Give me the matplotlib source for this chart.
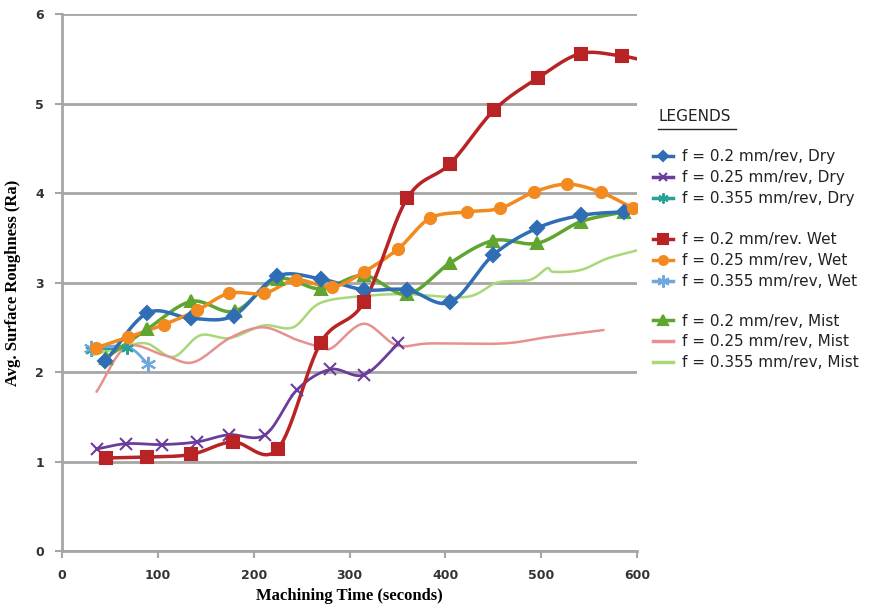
import numpy as np
import matplotlib
matplotlib.use("Agg")
import matplotlib.pyplot as plt
from matplotlib.lines import Line2D

# machining time (s) and Ra values
dry_02_t = [45, 89, 135, 179, 224, 270, 315, 360, 405, 450, 496, 541, 586, 598]
dry_02_ra = [2.12, 2.66, 2.60, 2.63, 3.07, 3.04, 2.92, 2.92, 2.78, 3.31, 3.61, 3.75, 3.79, 3.78]

dry_025_t = [36, 67, 104, 141, 174, 212, 245, 280, 315, 351]
dry_025_ra = [1.14, 1.20, 1.19, 1.22, 1.30, 1.30, 1.80, 2.03, 1.97, 2.32]

dry_0355_t = [30, 68]
dry_0355_ra = [2.25, 2.27]

wet_02_t = [46, 89, 135, 178, 225, 270, 315, 360, 405, 451, 497, 541, 584, 600]
wet_02_ra = [1.04, 1.05, 1.08, 1.22, 1.14, 2.33, 2.78, 3.94, 4.33, 4.93, 5.29, 5.56, 5.53, 5.50]

wet_025_t = [35, 69, 106, 141, 174, 211, 244, 282, 315, 351, 384, 422, 457, 492, 527, 562, 596]
wet_025_ra = [2.27, 2.39, 2.53, 2.69, 2.88, 2.88, 3.03, 2.95, 3.12, 3.38, 3.72, 3.79, 3.83, 4.01, 4.10, 4.01, 3.83]

wet_0355_t = [30, 68, 90]
wet_0355_ra = [2.27, 2.28, 2.09]

mist_02_t = [46, 89, 135, 180, 225, 270, 315, 360, 405, 450, 496, 541, 586]
mist_02_ra = [2.16, 2.48, 2.79, 2.68, 3.04, 2.93, 3.08, 2.87, 3.22, 3.47, 3.44, 3.68, 3.79]

mist_025_t = [36, 67, 106, 137, 175, 210, 245, 273, 283, 315, 349, 384, 460, 506, 565]
mist_025_ra = [1.78, 2.28, 2.19, 2.11, 2.38, 2.50, 2.36, 2.27, 2.28, 2.54, 2.30, 2.32, 2.32, 2.39, 2.47]

mist_0355_t = [32, 60, 88, 116, 144, 175, 210, 241, 269, 315, 360, 422, 454, 488, 506, 513, 541, 569, 600]
mist_0355_ra = [2.19, 2.27, 2.32, 2.17, 2.41, 2.38, 2.52, 2.50, 2.77, 2.85, 2.87, 2.84, 3.00, 3.03, 3.16, 3.12, 3.14, 3.27, 3.36]

ASTERISK = (6, 2, 0)


def smooth(x, y, n=16):
    # Catmull-Rom curve through the points, like Excel's smoothed lines
    x = np.asarray(x, float)
    y = np.asarray(y, float)
    if len(x) < 3:
        return x, y
    px = np.concatenate([[2 * x[0] - x[1]], x, [2 * x[-1] - x[-2]]])
    py = np.concatenate([[2 * y[0] - y[1]], y, [2 * y[-1] - y[-2]]])
    xs, ys = [], []
    s = np.linspace(0, 1, n, endpoint=False)
    for i in range(1, len(px) - 2):
        for p, out in ((px, xs), (py, ys)):
            p0, p1, p2, p3 = p[i - 1], p[i], p[i + 1], p[i + 2]
            out.extend(0.5 * (2 * p1 + (-p0 + p2) * s
                              + (2 * p0 - 5 * p1 + 4 * p2 - p3) * s ** 2
                              + (-p0 + 3 * p1 - 3 * p2 + p3) * s ** 3))
    xs.append(x[-1])
    ys.append(y[-1])
    return np.array(xs), np.array(ys)


series = [
    # (t, ra, colour, marker, marker size, line width, label, points with marker)
    (mist_0355_t, mist_0355_ra, "#a8d878", None, 0, 1.8, "f = 0.355 mm/rev,  Mist", None),
    (mist_025_t, mist_025_ra, "#e69090", None, 0, 1.8, "f = 0.25 mm/rev,  Mist", None),
    (dry_0355_t, dry_0355_ra, "#2aa198", ASTERISK, 9, 1.8, "f = 0.355 mm/rev, Dry", None),
    (wet_0355_t, wet_0355_ra, "#6fa8dc", ASTERISK, 11, 2.0, "f = 0.355 mm/rev, Wet", [0, 2]),
    (dry_025_t, dry_025_ra, "#6a3d9a", "x", 8, 2.0, "f = 0.25 mm/rev, Dry", None),
    (mist_02_t, mist_02_ra, "#5fa52f", "^", 9, 2.5, "f = 0.2 mm/rev, Mist", None),
    (dry_02_t, dry_02_ra, "#2f6db5", "D", 7, 2.5, "f = 0.2 mm/rev, Dry", list(range(13))),
    (wet_025_t, wet_025_ra, "#f28a20", "o", 8, 2.5, "f = 0.25 mm/rev, Wet", None),
    (wet_02_t, wet_02_ra, "#b82325", "s", 9, 2.5, "f = 0.2 mm/rev. Wet", list(range(13))),
]

fig = plt.figure(figsize=(8.8, 6.15), dpi=100)
ax = fig.add_axes([0.0705, 0.104, 0.6535, 0.873])

handles = {}
for t, ra, col, mk, ms, lw, lab, every in series:
    sx, sy = smooth(t, ra)
    ax.plot(sx, sy, color=col, lw=lw, solid_capstyle="round", zorder=3)
    if mk is not None:
        pts = every if every is not None else list(range(len(t)))
        ax.plot(np.asarray(t)[pts], np.asarray(ra)[pts], ls="none", marker=mk,
                ms=ms, color=col, mec=col, mew=1.5, zorder=4)
    handles[lab] = Line2D([], [], color=col, lw=2.5, marker=mk if mk else None,
                          ms=ms * 0.8, mew=1.5)

ax.set_xlim(0, 600)
ax.set_ylim(0, 6)
ax.set_xticks(range(0, 601, 100))
ax.set_yticks(range(0, 7))
ax.grid(axis="y", color="#a6a6a6", lw=2)
ax.set_axisbelow(True)
for s in ("top", "right"):
    ax.spines[s].set_visible(False)
for s in ("left", "bottom"):
    ax.spines[s].set_color("#a6a6a6")
    ax.spines[s].set_linewidth(2)
ax.tick_params(length=5, width=1.5, color="#a6a6a6", labelsize=9, pad=8)
for lbl in ax.get_yticklabels() + ax.get_xticklabels():
    lbl.set_fontweight("bold")
    lbl.set_color("#333333")

ax.set_xlabel("Machining Time (seconds)", family="Liberation Serif",
              fontweight="bold", fontsize=12, labelpad=4)
ax.set_ylabel("Avg. Surface Roughness (Ra)", family="Liberation Serif",
              fontweight="bold", fontsize=12, labelpad=10)

fig.text(0.748, 0.803, "LEGENDS", fontsize=11, color="#222222")
fig.add_artist(Line2D([0.748, 0.836], [0.790, 0.790], color="#222222", lw=1))

groups = [
    ["f = 0.2 mm/rev, Dry", "f = 0.25 mm/rev, Dry", "f = 0.355 mm/rev, Dry"],
    ["f = 0.2 mm/rev. Wet", "f = 0.25 mm/rev, Wet", "f = 0.355 mm/rev, Wet"],
    ["f = 0.2 mm/rev, Mist", "f = 0.25 mm/rev,  Mist", "f = 0.355 mm/rev,  Mist"],
]
tops = [0.757, 0.622, 0.490]
for labels, top in zip(groups, tops):
    leg = fig.legend([handles[l] for l in labels], [l.replace("  ", " ") for l in labels],
                     loc="upper left", bbox_to_anchor=(0.742, top), frameon=False,
                     fontsize=11, handlelength=1.3, handletextpad=0.6,
                     labelspacing=0.38, borderpad=0, borderaxespad=0)
    for txt in leg.get_texts():
        txt.set_color("#222222")

fig.savefig("out.png", dpi=100)
